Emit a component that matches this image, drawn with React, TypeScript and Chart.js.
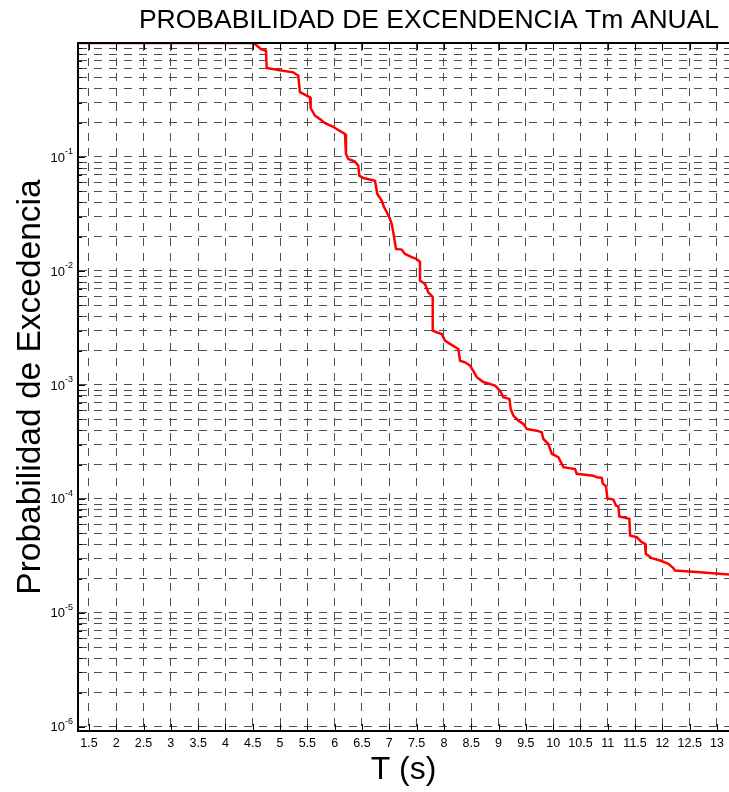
import React, { useEffect, useRef } from 'react';
import { Chart, registerables } from 'chart.js';

Chart.register(...registerables);

const periodT = [1.30, 4.52, 4.645, 4.742, 4.755, 4.967, 5.242, 5.333, 5.364, 5.487, 5.548, 5.560, 5.639, 5.731, 5.822, 5.974, 6.042, 6.189, 6.207, 6.249, 6.372, 6.432, 6.451, 6.524, 6.738, 6.780, 6.861, 6.903, 6.952, 7.013, 7.044, 7.073, 7.123, 7.227, 7.287, 7.410, 7.502, 7.562, 7.562, 7.654, 7.714, 7.795, 7.795, 7.868, 7.960, 8.020, 8.112, 8.264, 8.295, 8.386, 8.478, 8.538, 8.601, 8.722, 8.936, 9.027, 9.088, 9.198, 9.223, 9.271, 9.363, 9.454, 9.516, 9.700, 9.791, 9.821, 9.912, 9.975, 10.095, 10.187, 10.401, 10.432, 10.736, 10.798, 10.890, 10.908, 10.969, 10.993, 11.103, 11.152, 11.194, 11.212, 11.396, 11.408, 11.531, 11.622, 11.683, 11.696, 11.806, 11.958, 12.110, 12.201, 12.233, 12.630, 13.22];

const exceedanceP = [1, 1, 0.886, 0.856, 0.604, 0.580, 0.553, 0.517, 0.370, 0.345, 0.334, 0.269, 0.230, 0.215, 0.198, 0.184, 0.175, 0.159, 0.106, 0.0960, 0.0910, 0.0839, 0.0686, 0.0654, 0.0619, 0.0474, 0.0414, 0.0364, 0.0329, 0.0286, 0.0258, 0.0218, 0.0156, 0.0154, 0.0141, 0.0132, 0.0127, 0.0120, 0.00822, 0.00769, 0.00650, 0.00591, 0.00299, 0.00290, 0.00280, 0.00245, 0.00229, 0.00207, 0.00163, 0.00158, 0.00148, 0.00133, 0.00117, 0.00106, 0.000986, 0.000891, 0.000780, 0.000754, 0.000616, 0.000538, 0.000486, 0.000455, 0.000411, 0.000397, 0.000385, 0.000336, 0.000303, 0.000248, 0.000232, 0.000190, 0.000183, 0.000166, 0.000160, 0.000155, 0.000153, 0.000137, 0.000129, 0.000101, 0.0000986, 0.0000873, 0.0000863, 0.0000700, 0.0000668, 0.0000477, 0.0000461, 0.0000417, 0.0000403, 0.0000330, 0.0000302, 0.0000288, 0.0000269, 0.0000247, 0.0000235, 0.0000228, 0.0000217];

const xTickValues = [1.5, 2, 2.5, 3, 3.5, 4, 4.5, 5, 5.5, 6, 6.5, 7, 7.5, 8, 8.5, 9, 9.5, 10, 10.5, 11, 11.5, 12, 12.5, 13];
const xTickLabels = ['1.5', '2', '2.5', '3', '3.5', '4', '4.5', '5', '5.5', '6', '6.5', '7', '7.5', '8', '8.5', '9', '9.5', '10', '10.5', '11', '11.5', '12', '12.5', '13'];
const yDecadeExponents = [-6, -5, -4, -3, -2, -1, 0];
const yLabelExponents = [-6, -5, -4, -3, -2, -1];
const yMinorMultipliers = [1, 2, 3, 4, 5, 6, 7, 8, 9];

const xAxisMin = 1.3;
const xAxisMax = 13.22;
const yAxisMin = 9.2e-7;
const yAxisMax = 1;

const TITLE = 'PROBABILIDAD DE EXCENDENCIA Tm ANUAL';
const X_TITLE = 'T (s)';
const Y_TITLE = 'Probabilidad de Excedencia';
const FONT = "'Liberation Sans', Arial, Helvetica, sans-serif";

export default function App() {
  const canvasRef = useRef<HTMLCanvasElement>(null);

  useEffect(() => {
    const canvas = canvasRef.current;
    if (!canvas) return;

    const overlay = {
      id: 'matlabOverlay',
      afterDraw(chart: any) {
        const { ctx, chartArea: a, scales } = chart;
        const xs = scales.x;
        const ys = scales.y;
        ctx.save();
        ctx.strokeStyle = '#000';
        ctx.lineWidth = 2;
        ctx.beginPath();
        ctx.moveTo(a.left - 1, a.top);
        ctx.lineTo(a.right, a.top);
        ctx.stroke();

        ctx.lineWidth = 1;
        ys.ticks.forEach((t: any) => {
          const py = Math.round(ys.getPixelForValue(t.value)) + 0.5;
          const lg = Math.log10(t.value);
          const major = Math.abs(lg - Math.round(lg)) < 1e-9;
          const len = major ? 7 : 4;
          ctx.beginPath();
          ctx.moveTo(a.left, py);
          ctx.lineTo(a.left + len, py);
          ctx.stroke();
        });
        xs.ticks.forEach((t: any) => {
          const px = Math.round(xs.getPixelForValue(t.value)) + 0.5;
          ctx.beginPath();
          ctx.moveTo(px, a.bottom);
          ctx.lineTo(px, a.bottom - 7);
          ctx.moveTo(px, a.top);
          ctx.lineTo(px, a.top + 7);
          ctx.stroke();
        });

        ctx.fillStyle = '#000';
        ctx.textBaseline = 'middle';
        yLabelExponents.forEach((e) => {
          const py = ys.getPixelForValue(Math.pow(10, e));
          const sup = String(e);
          ctx.font = `9px ${FONT}`;
          const supW = ctx.measureText(sup).width;
          const right = a.left - 5;
          ctx.textAlign = 'left';
          ctx.fillText(sup, right - supW, py - 5);
          ctx.font = `13px ${FONT}`;
          ctx.textAlign = 'right';
          ctx.fillText('10', right - supW, py + 1);
        });

        ctx.font = `26.5px ${FONT}`;
        ctx.textAlign = 'center';
        ctx.textBaseline = 'alphabetic';
        ctx.fillText(TITLE, 429, 28);
        ctx.restore();
      },
    };

    const chart = new Chart(canvas, {
      type: 'line',
      data: {
        datasets: [
          {
            data: periodT.map((t, i) => ({ x: t, y: exceedanceP[i] })),
            borderColor: '#ff0000',
            borderWidth: 2.5,
            pointRadius: 0,
            fill: false,
            tension: 0,
          },
        ],
      },
      options: {
        responsive: false,
        animation: false,
        devicePixelRatio: 1,
        layout: { padding: { top: 43, left: 0, right: 0, bottom: 0 } },
        plugins: {
          legend: { display: false },
          tooltip: { enabled: false },
          title: { display: false },
        },
        scales: {
          x: {
            type: 'linear',
            min: xAxisMin,
            max: xAxisMax,
            afterBuildTicks: (s: any) => {
              s.ticks = xTickValues.map((v) => ({ value: v }));
            },
            afterFit: (s: any) => {
              s.height = 61;
            },
            ticks: {
              callback: (_v: any, i: number) => xTickLabels[i],
              font: { family: FONT, size: 12.5 },
              color: '#000',
              padding: 5,
              maxRotation: 0,
              autoSkip: false,
            },
            grid: { color: '#4d4d4d', lineWidth: 1, drawTicks: false },
            border: { display: true, color: '#000', width: 2, dash: [8, 7] },
            title: {
              display: true,
              text: X_TITLE,
              font: { family: FONT, size: 32 },
              color: '#000',
              padding: { top: 0, bottom: 3 },
            },
          },
          y: {
            type: 'logarithmic',
            min: yAxisMin,
            max: yAxisMax,
            afterBuildTicks: (s: any) => {
              const ticks: any[] = [];
              yDecadeExponents.forEach((e) => {
                yMinorMultipliers.forEach((m) => {
                  const v = m * Math.pow(10, e);
                  if (v <= yAxisMax * 1.0000001) ticks.push({ value: v });
                });
              });
              s.ticks = ticks;
            },
            afterFit: (s: any) => {
              s.width = 78;
            },
            ticks: { display: false },
            grid: { color: '#4d4d4d', lineWidth: 1, drawTicks: false },
            border: { display: true, color: '#000', width: 2, dash: [8, 7] },
            title: {
              display: true,
              text: Y_TITLE,
              font: { family: FONT, size: 33.5 },
              color: '#000',
              padding: { top: 11, bottom: 0 },
            },
          },
        },
      },
      plugins: [overlay],
    } as any);

    return () => chart.destroy();
  }, []);

  return (
    <div style={{ position: 'absolute', left: 0, top: 0, width: 729, height: 792, background: '#fff' }}>
      <canvas ref={canvasRef} width={729} height={792} style={{ display: 'block' }} />
    </div>
  );
}
